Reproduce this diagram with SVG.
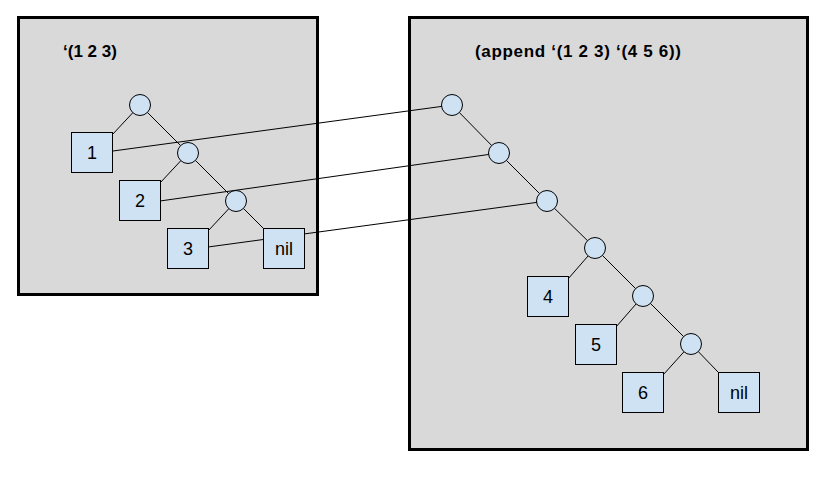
<svg xmlns="http://www.w3.org/2000/svg" width="829" height="477" viewBox="0 0 829 477">
  <style>
    .panel { fill: #d9d9d9; stroke: #000; stroke-width: 3; }
    .title { font-family: "Liberation Sans", Arial, sans-serif; font-size: 17px; font-weight: bold; fill: #000; }
    .cons { fill: #cfe2f3; stroke: #000; stroke-width: 1; }
    .atom rect { fill: #cfe2f3; stroke: #000; stroke-width: 1; }
    .atom text { font-family: "Liberation Sans", Arial, sans-serif; font-size: 18px; fill: #000; text-anchor: middle; }
    .edge { stroke: #000; stroke-width: 1; fill: none; }
  </style>

  <!-- panels -->
  <g id="panel-left">
    <rect class="panel" x="18.5" y="17.5" width="299" height="277"/>
    <text class="title" x="63" y="57">‘(1 2 3)</text>
  </g>
  <g id="panel-right">
    <rect class="panel" x="409.5" y="17.5" width="398" height="432"/>
    <text class="title" x="475" y="57" textLength="206">(append ‘(1 2 3) ‘(4 5 6))</text>
  </g>

  <!-- connectors -->
  <g id="connectors">
    <!-- list '(1 2 3) -->
    <line class="edge" x1="140" y1="105" x2="112" y2="135"/>
    <line class="edge" x1="140" y1="105" x2="188" y2="153"/>
    <line class="edge" x1="188" y1="153" x2="160" y2="183"/>
    <line class="edge" x1="188" y1="153" x2="236" y2="201"/>
    <line class="edge" x1="236" y1="201" x2="208" y2="231"/>
    <line class="edge" x1="236" y1="201" x2="263" y2="228"/>
    <!-- appended list -->
    <line class="edge" x1="452" y1="105" x2="499" y2="153"/>
    <line class="edge" x1="499" y1="153" x2="547" y2="201"/>
    <line class="edge" x1="547" y1="201" x2="595" y2="248"/>
    <line class="edge" x1="595" y1="248" x2="568" y2="279"/>
    <line class="edge" x1="595" y1="248" x2="643" y2="296"/>
    <line class="edge" x1="643" y1="296" x2="616" y2="327"/>
    <line class="edge" x1="643" y1="296" x2="691" y2="344"/>
    <line class="edge" x1="691" y1="344" x2="663" y2="375"/>
    <line class="edge" x1="691" y1="344" x2="718" y2="372"/>
    <!-- shared elements -->
    <line class="edge" x1="113" y1="151" x2="452" y2="105"/>
    <line class="edge" x1="160" y1="201" x2="499" y2="153"/>
    <line class="edge" x1="208" y1="247" x2="547" y2="201"/>
  </g>

  <!-- list '(1 2 3) -->
  <g id="c1"><circle class="cons" cx="140" cy="105" r="10.5"/></g>
  <g id="c2"><circle class="cons" cx="188" cy="153" r="10.5"/></g>
  <g id="c3"><circle class="cons" cx="236" cy="201" r="10.5"/></g>
  <g id="a1" class="atom"><rect x="71.5" y="132.5" width="41" height="40"/><text x="92" y="159">1</text></g>
  <g id="a2" class="atom"><rect x="119.5" y="180.5" width="41" height="40"/><text x="140" y="207">2</text></g>
  <g id="a3" class="atom"><rect x="167.5" y="228.5" width="41" height="40"/><text x="188" y="255">3</text></g>
  <g id="nil1" class="atom"><rect x="263.5" y="228.5" width="41" height="40"/><text x="284" y="255">nil</text></g>

  <!-- appended list -->
  <g id="d1"><circle class="cons" cx="452" cy="105" r="10.5"/></g>
  <g id="d2"><circle class="cons" cx="499" cy="153" r="10.5"/></g>
  <g id="d3"><circle class="cons" cx="547" cy="201" r="10.5"/></g>
  <g id="d4"><circle class="cons" cx="595" cy="248" r="10.5"/></g>
  <g id="d5"><circle class="cons" cx="643" cy="296" r="10.5"/></g>
  <g id="d6"><circle class="cons" cx="691" cy="344" r="10.5"/></g>
  <g id="b4" class="atom"><rect x="527.5" y="276.5" width="41" height="40"/><text x="548" y="303">4</text></g>
  <g id="b5" class="atom"><rect x="575.5" y="324.5" width="41" height="40"/><text x="596" y="351">5</text></g>
  <g id="b6" class="atom"><rect x="622.5" y="372.5" width="41" height="40"/><text x="643" y="399">6</text></g>
  <g id="nil2" class="atom"><rect x="718.5" y="372.5" width="41" height="40"/><text x="739" y="399">nil</text></g>
</svg>
